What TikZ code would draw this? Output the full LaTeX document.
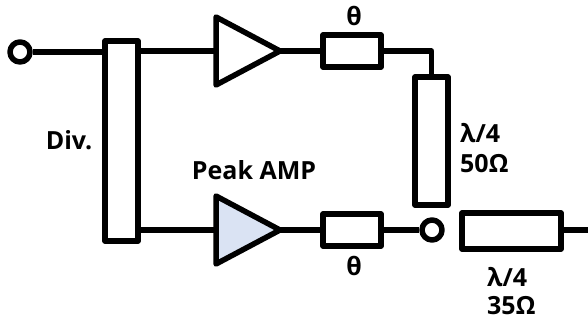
\documentclass[tikz,border=0pt]{standalone}
\usepackage{fontspec}
\setmainfont{Open Sans}
\usetikzlibrary{shapes.geometric}
\definecolor{peakblue}{HTML}{DAE3F3}
\tikzset{
    wire/.style={line width=5.5pt,line join=round},
    linebox/.style={draw,wire,fill=white,inner sep=0pt},
    port/.style={draw,wire,circle,fill=white,inner sep=0pt,minimum size=20pt},
    amp/.style={draw,wire,isosceles triangle,isosceles triangle stretches,inner sep=0pt,
        outer sep=0pt,anchor=lower side,minimum width=68pt,minimum height=64pt,fill=white},
    lbl/.style={font=\bfseries\fontsize{25}{30}\selectfont,inner sep=0pt}
}
\begin{document}
\begin{tikzpicture}[x=1pt,y=-1pt]
    \useasboundingbox (0,0) rectangle (588,320);
    \node[port] (termin) at (20,52) {};
    \node[linebox,minimum width=33pt,minimum height=200pt] (div) at (121.5,141) {};
    \node[amp] (carrier) at (216,51) {};
    \node[amp,fill=peakblue] (peak) at (216,230) {};
    \node[linebox,minimum width=58pt,minimum height=32pt] (thetatop) at (352,51) {};
    \node[linebox,minimum width=58pt,minimum height=32pt] (thetabot) at (352,230) {};
    \node[linebox,minimum width=33pt,minimum height=128pt] (qwfifty) at (431.5,141) {};
    \node[port] (junction) at (432,230) {};
    \node[linebox,minimum width=99pt,minimum height=36pt] (qwout) at (511.5,231) {};
    \coordinate (termout) at (588,230);
    % wires
    \draw[wire] (termin) -- (termin -| div.west);
    \draw[wire] (carrier.lower side) -- (carrier.lower side -| div.east);
    \draw[wire] (carrier.apex) -- (thetatop.west);
    \draw[wire] (thetatop.east) -| (qwfifty.north);
    \draw[wire] (div.east |- peak.lower side) -- (peak.lower side);
    \draw[wire] (peak.apex) -- (thetabot.west);
    \draw[wire] (thetabot.east) -- (junction.west);
    \draw[wire] (qwout.east |- termout) -- (termout);
    % labels
    \node[lbl] (thetalbl) at (354,16) {θ};
    \node[lbl] (divlbl) at (69,140) {Div.};
    \node[lbl,align=left,anchor=west] (fiftylbl) at (460,148) {λ/4\\50Ω};
    \node[lbl] (peaklbl) at (254,170) {Peak AMP};
    \node[lbl] (thetalbl2) at (354,266) {θ};
    \node[lbl,align=left,anchor=west] (outlbl) at (487,291) {λ/4\\[-2pt]35Ω};
\end{tikzpicture}
\end{document}
